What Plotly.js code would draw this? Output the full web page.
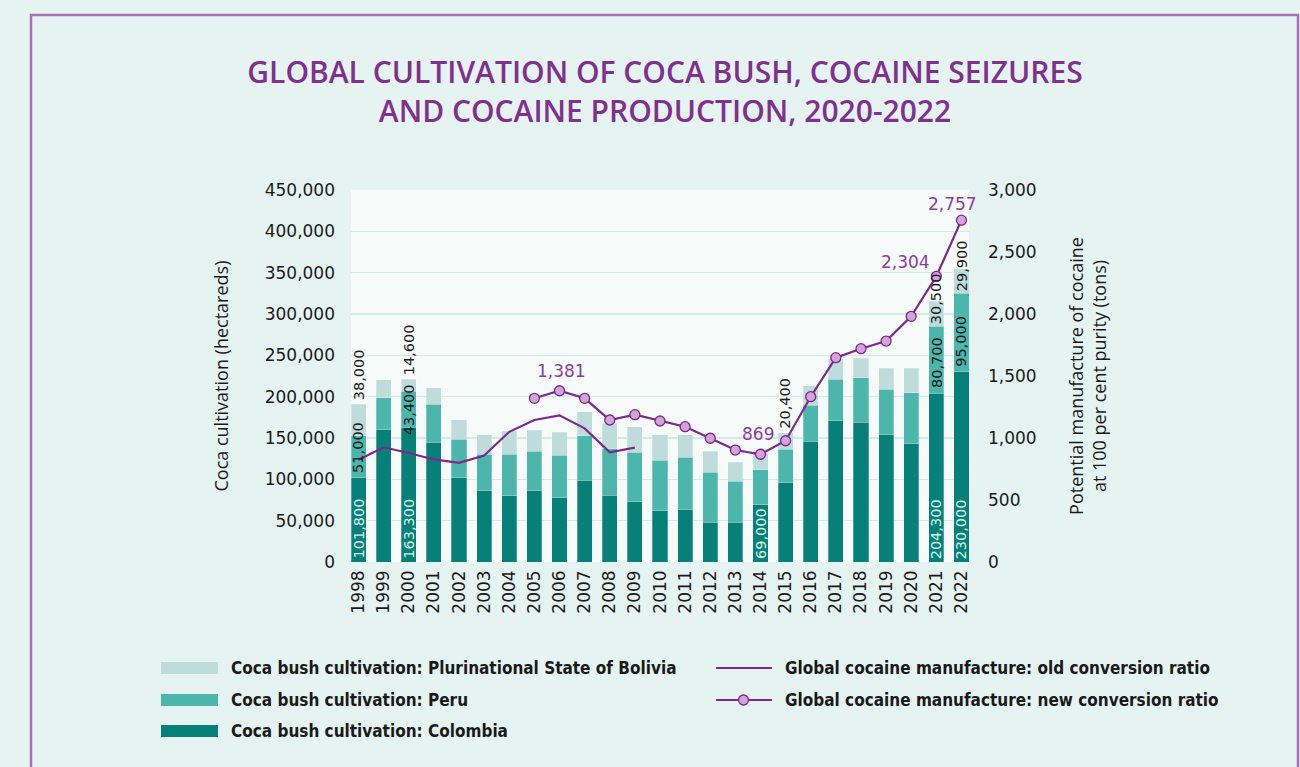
<!DOCTYPE html>
<html>
<head>
<meta charset="utf-8">
<script src="https://cdn.plot.ly/plotly-3.0.1.min.js"></script>
<style>
html,body{margin:0;padding:0;background:#e5f4f1;}
#chart{width:1300px;height:767px;}
</style>
</head>
<body>
<div id="chart"></div>
<script>
// ---------- DATA ----------
const years = ['1998','1999','2000','2001','2002','2003','2004','2005','2006','2007','2008','2009','2010','2011','2012','2013','2014','2015','2016','2017','2018','2019','2020','2021','2022'];
const colombia = [101800,160100,163300,144800,102000,86000,80000,86000,78000,99000,81000,73000,62000,64000,48000,48000,69000,96000,146000,171000,169000,154000,143000,204300,230000];
const peru     = [51000,38700,43400,46200,46700,44200,50300,48200,51400,53700,56100,59900,61200,62500,60400,49800,42900,40300,43900,49900,54100,54700,61800,80700,95000];
const bolivia  = [38000,21800,14600,19900,23600,23600,27700,25400,27500,28900,30500,30900,31000,27200,25300,23000,20400,20200,23100,24500,23100,25500,29400,30500,29900];

const oldYears = ['1998','1999','2000','2001','2002','2003','2004','2005','2006','2007','2008','2009'];
const oldManufacture = [825,925,879,827,800,859,1050,1145,1183,1078,885,922];
const newYears = ['2005','2006','2007','2008','2009','2010','2011','2012','2013','2014','2015','2016','2017','2018','2019','2020','2021','2022'];
const newManufacture = [1320,1381,1320,1145,1188,1137,1091,998,903,869,978,1333,1648,1720,1782,1981,2304,2757];

// value labels shown on the chart
const colombiaLabelYears = ['1998','2000','2014','2021','2022'];
const peruLabelYears     = ['1998','2000','2021','2022'];
const boliviaOutsideLabels = [['1998','38,000'],['2000','14,600'],['2015','20,400']];
const boliviaInsideLabelYears = ['2021','2022'];
const newLabelYears = ['2006','2014','2021','2022'];

const titleText = 'GLOBAL CULTIVATION OF COCA BUSH, COCAINE SEIZURES<br>AND COCAINE PRODUCTION, 2020-2022';
const legendBars = ['Coca bush cultivation: Plurinational State of Bolivia','Coca bush cultivation: Peru','Coca bush cultivation: Colombia'];
const legendLines = ['Global cocaine manufacture: old conversion ratio','Global cocaine manufacture: new conversion ratio'];

// ---------- STYLE ----------
const C_COL = '#08807a', C_PER = '#4db6ac', C_BOL = '#bddcda';
const C_LINE = '#7b2a8c', C_MARK = '#d2a4d7', C_LAB = '#8a3d9b';
const numFont = 'DejaVu Sans';
const txtFont = 'Open Sans';
const W = 1300, H = 767;
const M = {l:351, r:331, t:190, b:205};
const PW = W - M.l - M.r, PH = H - M.t - M.b;
const px = x => (x - M.l) / PW;
const py = y => (H - M.b - y) / PH;
const fmt = v => v.toLocaleString('en-US');

const barLine = {color:'rgba(255,255,255,0.45)', width:0.6};
const traces = [
  {type:'bar', x:years, y:colombia, name:legendBars[2], marker:{color:C_COL, line:barLine}, showlegend:false},
  {type:'bar', x:years, y:peru, name:legendBars[1], marker:{color:C_PER, line:barLine}, showlegend:false},
  {type:'bar', x:years, y:bolivia, name:legendBars[0], marker:{color:C_BOL, line:barLine}, showlegend:false},
  {type:'scatter', mode:'lines', x:oldYears, y:oldManufacture, yaxis:'y2', name:legendLines[0], line:{color:C_LINE, width:2.2}, showlegend:false},
  {type:'scatter', mode:'lines+markers', x:newYears, y:newManufacture, yaxis:'y2', name:legendLines[1], line:{color:C_LINE, width:2.2},
   marker:{size:10, color:C_MARK, line:{color:C_LINE, width:1.3}}, showlegend:false}
];

const ann = [];
const idx = y => years.indexOf(y);
const labFont = c => ({family:numFont, size:14.5, color:c});
colombiaLabelYears.forEach(yr => {
  const i = idx(yr);
  ann.push({x:i, y:0, xref:'x', yref:'y', text:fmt(colombia[i]), textangle:-90, showarrow:false,
    yanchor:'bottom', xanchor:'center', yshift:1, font:labFont('#d3efe9')});
});
const peruShift = {'1998':3, '2000':-10, '2021':3, '2022':3};
peruLabelYears.forEach(yr => {
  const i = idx(yr);
  ann.push({x:i, y:colombia[i], xref:'x', yref:'y', text:fmt(peru[i]), textangle:-90, showarrow:false,
    yanchor:'bottom', xanchor:'center', yshift:peruShift[yr], font:labFont('#1a1a1a')});
});
boliviaInsideLabelYears.forEach(yr => {
  const i = idx(yr);
  ann.push({x:i, y:colombia[i]+peru[i], xref:'x', yref:'y', text:fmt(bolivia[i]), textangle:-90, showarrow:false,
    yanchor:'bottom', xanchor:'center', yshift:0, font:labFont('#1a1a1a')});
});
boliviaOutsideLabels.forEach(([yr, t]) => {
  const i = idx(yr);
  ann.push({x:i, y:colombia[i]+peru[i]+bolivia[i], xref:'x', yref:'y', text:t, textangle:-90, showarrow:false,
    yanchor:'bottom', xanchor:'center', yshift:2, font:labFont('#1a1a1a')});
});
const newLabelShift = {'2006':[2,8], '2014':[-2,8], '2021':[-4,2], '2022':[-9,4]};
const newLabelAnchor = {'2006':'center','2014':'center','2021':'right','2022':'center'};
newLabelYears.forEach(yr => {
  const i = newYears.indexOf(yr);
  ann.push({x:idx(yr), y:newManufacture[i], xref:'x', yref:'y2', text:fmt(newManufacture[i]), showarrow:false,
    yanchor:'bottom', xanchor:newLabelAnchor[yr], xshift:newLabelShift[yr][0], yshift:newLabelShift[yr][1],
    font:{family:numFont, size:17, color:C_LAB}});
});

// custom legend
const shapes = [];
const legFont = {family:'DejaVu Sans Condensed, DejaVu Sans, sans-serif', size:17, color:'#1a1a1a', weight:700};
const barCols = [C_BOL, C_PER, C_COL];
const rowY = [668, 700, 731];
legendBars.forEach((t, k) => {
  shapes.push({type:'rect', xref:'paper', yref:'paper', x0:px(161), x1:px(218), y0:py(rowY[k]-6), y1:py(rowY[k]+6), fillcolor:barCols[k], line:{width:0}});
  ann.push({xref:'paper', yref:'paper', x:px(229), y:py(rowY[k]), xanchor:'left', yanchor:'middle', showarrow:false, text:'<b>'+t+'</b>', font:legFont});
});
legendLines.forEach((t, k) => {
  shapes.push({type:'line', xref:'paper', yref:'paper', x0:px(716), x1:px(772), y0:py(rowY[k]), y1:py(rowY[k]), line:{color:C_LINE, width:2.2}});
  ann.push({xref:'paper', yref:'paper', x:px(783), y:py(rowY[k]), xanchor:'left', yanchor:'middle', showarrow:false, text:'<b>'+t+'</b>', font:legFont});
});
shapes.push({type:'circle', xref:'paper', yref:'paper', x0:px(738.5), x1:px(748.5), y0:py(rowY[1]-5), y1:py(rowY[1]+5), fillcolor:C_MARK, line:{color:C_LINE, width:1.3}});
// frame
shapes.push({type:'rect', xref:'paper', yref:'paper', x0:px(31), x1:px(1298), y0:py(820), y1:py(15), line:{color:'#a472b4', width:2.5}, layer:'below'});

const layout = {
  width:W, height:H,
  paper_bgcolor:'#e5f4f1', plot_bgcolor:'#f6fbfa',
  margin:{l:M.l, r:M.r, t:M.t, b:M.b, autoexpand:false},
  barmode:'stack', bargap:0.4,
  showlegend:false,
  title:{text:titleText, x:665/W, xref:'container', xanchor:'center', y:1-83/H, yref:'container', yanchor:'top',
    font:{family:txtFont, size:30, color:'#80308f', weight:600}},
  xaxis:{type:'category', range:[-0.3, 24.3], tickangle:-90, ticks:'', showgrid:false, zeroline:false, showline:false,
    tickfont:{family:numFont, size:17, color:'#1a1a1a'}, ticklabelstandoff:4, fixedrange:true},
  yaxis:{range:[0,450000], dtick:50000, tickformat:',d', ticks:'', gridcolor:'#d3ebe6', gridwidth:1.5, zeroline:false, showline:false,
    tickfont:{family:numFont, size:17, color:'#1a1a1a'}, ticklabelstandoff:15,
    title:{text:'Coca cultivation (hectareds)', standoff:31, font:{family:txtFont, size:18, color:'#1a1a1a'}}},
  yaxis2:{overlaying:'y', side:'right', range:[0,3000], dtick:500, tickformat:',d', ticks:'', showgrid:false, zeroline:false, showline:false,
    tickfont:{family:numFont, size:17, color:'#1a1a1a'}, ticklabelstandoff:18,
    title:{text:'Potential manufacture of cocaine<br>at 100 per cent purity (tons)', standoff:34, font:{family:txtFont, size:18, color:'#1a1a1a'}}},
  annotations:ann,
  shapes:shapes
};

Plotly.newPlot('chart', traces, layout, {displayModeBar:false, staticPlot:true});
</script>
</body>
</html>
